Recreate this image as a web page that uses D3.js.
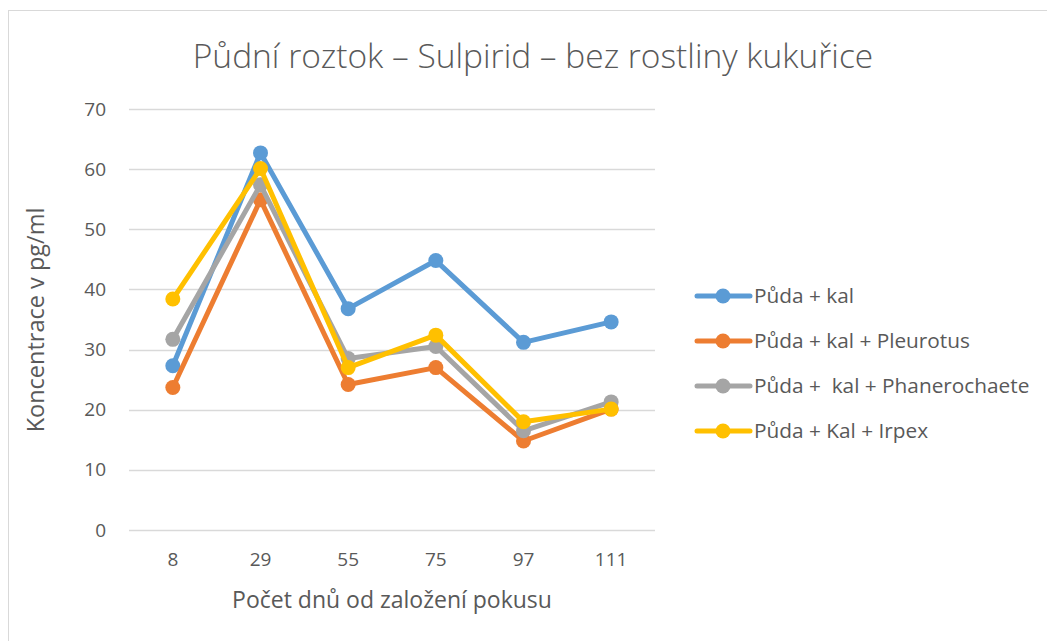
<!DOCTYPE html>
<html><head><meta charset="utf-8">
<script src="https://cdn.jsdelivr.net/npm/d3@7"></script>
<style>body{margin:0;background:#fff}svg{display:block}text{font-family:"Open Sans",sans-serif;fill:#595959}</style>
</head><body><svg id="c" width="1047" height="641"></svg>
<script>
const categories = ["8","29","55","75","97","111"];
const seriesNames = ["Půda + kal","Půda + kal + Pleurotus","Půda +  kal + Phanerochaete","Půda + Kal + Irpex"];
const s1 = [27.3, 62.7, 36.8, 44.8, 31.2, 34.6];
const s2 = [23.7, 54.9, 24.2, 27.0, 14.8, 20.1];
const s3 = [31.7, 57.4, 28.5, 30.5, 16.5, 21.3];
const s4 = [38.4, 60.1, 27.0, 32.4, 18.0, 20.1];
const yTicks = [0,10,20,30,40,50,60,70];
const colors = ["#5B9BD5","#ED7D31","#A5A5A5","#FFC000"];
const seriesData = [s1,s2,s3,s4];

const svg = d3.select("#c");
svg.append("rect").attr("x",8.5).attr("y",10.5).attr("width",1100).attr("height",700)
  .attr("fill","#fff").attr("stroke","#d9d9d9").attr("stroke-width",1);

const x = d3.scaleBand().domain(categories).range([129,655]);
const y = d3.scaleLinear().domain([0,70]).range([530,109]);

svg.append("text").attr("x",533).attr("y",68).attr("text-anchor","middle")
  .style("font-size","33.5px").style("font-weight","300").text("Půdní roztok – Sulpirid – bez rostliny kukuřice");

const grid = svg.append("g");
yTicks.forEach(t=>{
  grid.append("line").attr("x1",129).attr("x2",655).attr("y1",Math.round(y(t))+0.5).attr("y2",Math.round(y(t))+0.5)
    .attr("stroke","#d9d9d9").attr("stroke-width",1.5);
});
const ya = svg.append("g").attr("transform","translate(129,0)")
  .call(d3.axisLeft(y).tickValues(yTicks).tickSize(0).tickPadding(23));
ya.select(".domain").remove();
ya.selectAll("text").style("font-size","19px").attr("fill","#595959").style("font-family","'Open Sans',sans-serif");

const xa = svg.append("g").attr("transform","translate(0,530)")
  .call(d3.axisBottom(x).tickSize(0).tickPadding(23));
xa.select(".domain").remove();
xa.selectAll("text").style("font-size","19px").attr("fill","#595959").style("font-family","'Open Sans',sans-serif");

svg.append("text").attr("x",392).attr("y",608).attr("text-anchor","middle").style("font-size","23px").text("Počet dnů od založení pokusu");
svg.append("text").attr("transform","translate(44,320) rotate(-90)").attr("text-anchor","middle").style("font-size","23.5px").text("Koncentrace v pg/ml");

const line = d3.line().x((d,i)=>x(categories[i])+x.bandwidth()/2).y(d=>y(d));
seriesData.forEach((s,k)=>{
  const g = svg.append("g");
  g.append("path").datum(s).attr("d",line).attr("fill","none").attr("stroke",colors[k]).attr("stroke-width",5).attr("stroke-linejoin","round");
  g.selectAll("circle").data(s).join("circle").attr("cx",(d,i)=>x(categories[i])+x.bandwidth()/2).attr("cy",d=>y(d)).attr("r",7.5).attr("fill",colors[k]);
});

const leg = svg.append("g");
seriesNames.forEach((n,k)=>{
  const yy = 296 + k*45;
  leg.append("line").attr("x1",697).attr("x2",750).attr("y1",yy).attr("y2",yy).attr("stroke",colors[k]).attr("stroke-width",5).attr("stroke-linecap","round");
  leg.append("circle").attr("cx",723).attr("cy",yy).attr("r",7.5).attr("fill",colors[k]);
  leg.append("text").attr("x",754).attr("y",yy+7).style("font-size","20.8px").style("white-space","pre").attr("xml:space","preserve").text(n);
});
</script></body></html>
